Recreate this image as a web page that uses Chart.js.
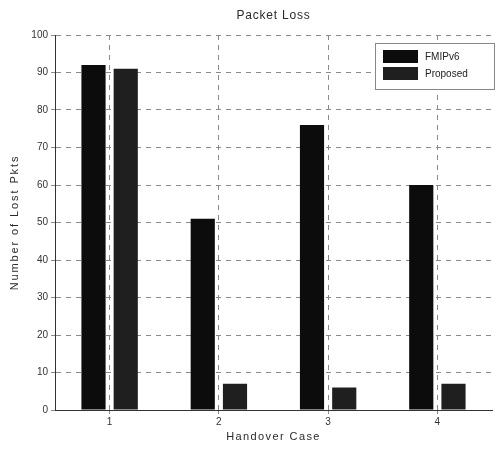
<!DOCTYPE html>
<html>
<head>
<meta charset="utf-8">
<script src="https://cdn.jsdelivr.net/npm/chart.js@4/dist/chart.umd.min.js"></script>
<style>
html,body{margin:0;padding:0;background:#fff;}
#wrap{width:496px;height:450px;position:relative;}
</style>
</head>
<body>
<div id="wrap"><canvas id="c" width="496" height="450"></canvas></div>
<script>
const categories = ['1', '2', '3', '4'];
const fmipv6 = [92, 51, 76, 60];
const proposed = [91, 7, 6, 7];
const seriesNames = ['FMIPv6', 'Proposed'];
const seriesColors = ['#0c0c0c', '#1f1f1f'];
const chartTitle = 'Packet Loss';
const xTitle = 'Handover Case';
const yTitle = 'Number of Lost Pkts';

const FONT = '"Liberation Sans", Arial, sans-serif';

const textPlugin = {
  id: 'texts',
  afterDraw(chart) {
    const ctx = chart.ctx;
    const area = chart.chartArea;
    const cx = (area.left + area.right) / 2;
    ctx.save();
    ctx.fillStyle = '#2a2a2a';
    ctx.textAlign = 'center';
    ctx.textBaseline = 'middle';
    // chart title
    ctx.font = '12px ' + FONT;
    ctx.letterSpacing = '0.8px';
    ctx.fillText(chartTitle, cx, 16);
    // x title
    ctx.font = '11px ' + FONT;
    ctx.letterSpacing = '1.4px';
    ctx.fillText(xTitle, cx, 437);
    // y title
    ctx.save();
    ctx.translate(15, (area.top + area.bottom) / 2);
    ctx.rotate(-Math.PI / 2);
    ctx.font = '11px ' + FONT;
    ctx.letterSpacing = '1.9px';
    ctx.fillText(yTitle, 0, 0);
    ctx.restore();

    // legend box
    const x0 = area.right - 117, y0 = area.top + 8;
    const w = 119, h = 46;
    ctx.letterSpacing = '0px';
    ctx.fillStyle = '#fff';
    ctx.fillRect(x0, y0, w, h);
    ctx.strokeStyle = '#888';
    ctx.lineWidth = 1;
    ctx.strokeRect(x0 + 0.5, y0 + 0.5, w, h);
    chart.data.datasets.forEach((ds, i) => {
      const sy = y0 + 7 + i * 17;
      ctx.fillStyle = ds.backgroundColor;
      ctx.fillRect(x0 + 8, sy, 35, 13);
      ctx.fillStyle = '#222';
      ctx.font = '10px ' + FONT;
      ctx.textBaseline = 'middle';
      ctx.textAlign = 'left';
      ctx.fillText(ds.label, x0 + 50, sy + 7);
    });
    ctx.restore();
  }
};

new Chart(document.getElementById('c'), {
  type: 'bar',
  data: {
    labels: categories,
    datasets: [
      { label: seriesNames[0], data: fmipv6, backgroundColor: seriesColors[0], borderWidth: 0 },
      { label: seriesNames[1], data: proposed, backgroundColor: seriesColors[1], borderWidth: 0 }
    ]
  },
  options: {
    responsive: false,
    animation: false,
    devicePixelRatio: 1,
    categoryPercentage: 0.59,
    barPercentage: 0.75,
    layout: { padding: { left: 4, right: 4, top: 35, bottom: 4 } },
    plugins: {
      legend: { display: false },
      tooltip: { enabled: false },
      title: { display: false }
    },
    scales: {
      x: {
        offset: true,
        afterFit(s) { s.height = 36; },
        grid: { display: true, offset: false, color: '#8a8a8a', drawTicks: true, tickLength: 4 },
        border: { display: true, color: '#333', dash: [5, 5] },
        ticks: { color: '#333', font: { family: FONT, size: 10 }, padding: 2 },
        title: { display: false }
      },
      y: {
        min: 0,
        max: 100,
        afterFit(s) { s.width = 51; },
        grid: { color: '#8a8a8a', tickLength: 4 },
        border: { display: true, color: '#333', dash: [5, 5] },
        ticks: { stepSize: 10, color: '#333', font: { family: FONT, size: 10 }, padding: 3 },
        title: { display: false }
      }
    }
  },
  plugins: [textPlugin]
});
</script>
</body>
</html>
